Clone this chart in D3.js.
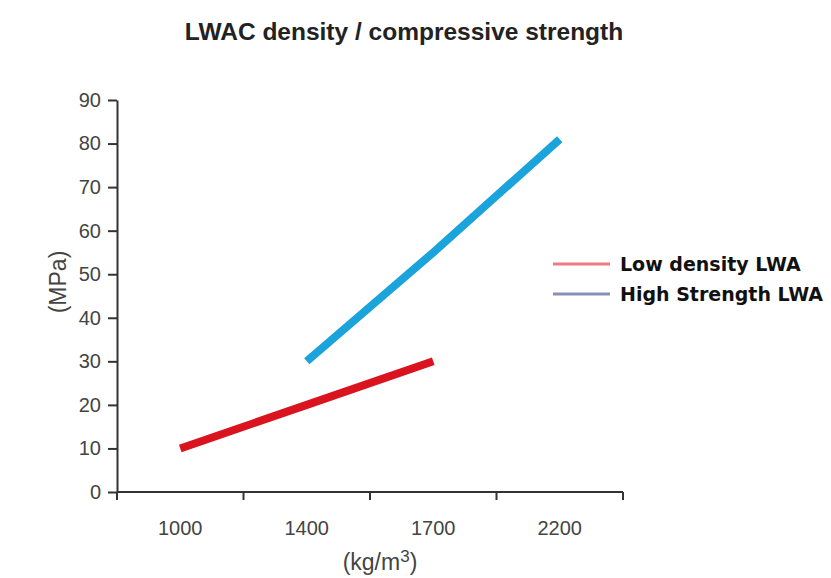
<!DOCTYPE html>
<html>
<head>
<meta charset="utf-8">
<script src="https://cdn.jsdelivr.net/npm/d3@7"></script>
<style>
  body { margin: 0; background: #fff; }
</style>
</head>
<body>
<svg width="831" height="578"></svg>
<script>
var categories = ["1000", "1400", "1700", "2200"];
var yTicks = [0, 10, 20, 30, 40, 50, 60, 70, 80, 90];
var lowDensity = [
  {cat: "1000", value: 10},
  {cat: "1400", value: 20},
  {cat: "1700", value: 30}
];
var highStrength = [
  {cat: "1400", value: 30},
  {cat: "1700", value: 55},
  {cat: "2200", value: 81}
];
var seriesNames = ["Low density LWA", "High Strength LWA"];

var svg = d3.select("svg"),
    margin = {top: 100, right: 208, bottom: 86, left: 117},
    width = +svg.attr("width") - margin.left - margin.right,
    height = +svg.attr("height") - margin.top - margin.bottom,
    g = svg.append("g").attr("transform", "translate(" + margin.left + "," + margin.top + ")");

var x = d3.scaleBand().domain(categories).range([0, width]);
var y = d3.scaleLinear().domain([0, 90]).range([height, 0]);

var line = d3.line()
    .x(function(d) { return x(d.cat) + x.bandwidth() / 2; })
    .y(function(d) { return y(d.value); });

var font = "Liberation Sans, Arial, sans-serif";

// title
svg.append("text")
    .attr("x", 404)
    .attr("y", 40)
    .attr("text-anchor", "middle")
    .attr("font-family", font)
    .attr("font-weight", "bold")
    .attr("font-size", 24.5)
    .attr("fill", "#222")
    .text("LWAC density / compressive strength");

// y axis
var yAxis = g.append("g")
    .call(d3.axisLeft(y).tickValues(yTicks).tickSize(9).tickPadding(7).tickSizeOuter(0));
yAxis.selectAll("path, line").attr("stroke", "#333").attr("stroke-width", 2);
yAxis.selectAll("text")
    .attr("font-family", font)
    .attr("font-size", 20)
    .attr("fill", "#444");

// x axis: ticks at band edges, labels at band centres
var edges = categories.map(function(c) { return x(c); }).concat([width]);
var xAxis = g.append("g")
    .attr("transform", "translate(0," + height + ")");
xAxis.append("line")
    .attr("x1", 0).attr("x2", width)
    .attr("stroke", "#333").attr("stroke-width", 2);
xAxis.selectAll(".edge").data(edges).enter().append("line")
    .attr("class", "edge")
    .attr("x1", function(d) { return d; }).attr("x2", function(d) { return d; })
    .attr("y1", 0).attr("y2", 8)
    .attr("stroke", "#333").attr("stroke-width", 2);
xAxis.selectAll(".lab").data(categories).enter().append("text")
    .attr("class", "lab")
    .attr("x", function(d) { return x(d) + x.bandwidth() / 2; })
    .attr("y", 43)
    .attr("text-anchor", "middle")
    .attr("font-family", font)
    .attr("font-size", 20)
    .attr("fill", "#444")
    .text(function(d) { return d; });

// axis titles
svg.append("text")
    .attr("transform", "translate(66,282) rotate(-90)")
    .attr("text-anchor", "middle")
    .attr("font-family", font)
    .attr("font-size", 23)
    .attr("fill", "#444")
    .text("(MPa)");

var xt = svg.append("text")
    .attr("x", 380)
    .attr("y", 570)
    .attr("text-anchor", "middle")
    .attr("font-family", font)
    .attr("font-size", 23)
    .attr("fill", "#444");
xt.append("tspan").text("(kg/m");
xt.append("tspan").attr("dy", -8).attr("font-size", 17).text("3");
xt.append("tspan").attr("dy", 8).text(")");

// lines
g.append("path")
    .datum(lowDensity)
    .attr("fill", "none")
    .attr("stroke", "#d9141f")
    .attr("stroke-width", 8)
    .attr("d", line);

g.append("path")
    .datum(highStrength)
    .attr("fill", "none")
    .attr("stroke", "#1ba3dc")
    .attr("stroke-width", 8)
    .attr("d", line);

// legend
var legendColors = ["#f07a83", "#8a90b4"];
var legend = svg.selectAll(".legend").data(seriesNames).enter().append("g")
    .attr("class", "legend")
    .attr("transform", function(d, i) { return "translate(553," + (264 + i * 30) + ")"; });
legend.append("line")
    .attr("x1", 0).attr("x2", 57)
    .attr("stroke", function(d, i) { return legendColors[i]; })
    .attr("stroke-width", 3);
legend.append("text")
    .attr("x", 67)
    .attr("y", 7)
    .attr("font-family", "DejaVu Sans, sans-serif")
    .attr("font-weight", "bold")
    .attr("font-size", 19)
    .attr("fill", "#111")
    .text(function(d) { return d; });
</script>
</body>
</html>
